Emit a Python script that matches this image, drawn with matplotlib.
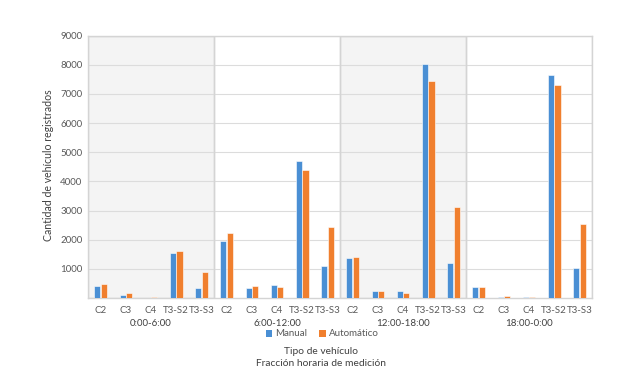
import matplotlib
matplotlib.use("Agg")
import matplotlib.pyplot as plt
import matplotlib.transforms as mtransforms
import numpy as np
from matplotlib.patches import Patch

categories = ["C2", "C3", "C4", "T3-S2", "T3-S3"]
groups = ["0:00-6:00", "6:00-12:00", "12:00-18:00", "18:00-0:00"]
manual = [420, 115, 0, 1555, 355,
          1950, 340, 445, 4690, 1095,
          1380, 230, 250, 8040, 1200,
          375, 45, 20, 7640, 1040]
automatico = [490, 160, 35, 1620, 890,
              2215, 420, 375, 4385, 2445,
              1405, 230, 170, 7455, 3130,
              375, 70, 45, 7295, 2525]
yticks = [1000, 2000, 3000, 4000, 5000, 6000, 7000, 8000, 9000]

plt.rcParams['font.family'] = ['Lato', 'DejaVu Sans']
blue = "#4a8fd4"
orange = "#f07f2e"
txt = "#595959"

fig = plt.figure(figsize=(6.33, 3.76), dpi=100)
ax = fig.add_axes([88/633, 1-298/376, (592-88)/633, (298-35.7)/376])

n = len(manual)
x = np.arange(n)
w = 0.24
ax.bar(x - w/2 - 0.01, manual, w, color=blue, edgecolor="white", linewidth=0.4, zorder=3)
ax.bar(x + w/2 + 0.01, automatico, w, color=orange, edgecolor="white", linewidth=0.4, zorder=3)

ng = len(categories)
for gi in range(len(groups)):
    lo, hi = gi*ng - 0.5, (gi+1)*ng - 0.5
    if gi % 2 == 0:
        ax.axvspan(lo, hi, facecolor="#f4f4f4", edgecolor="#d4d4d4", linewidth=1.0, zorder=0)
    ax.axvline(hi, color="#d4d4d4", linewidth=1.0, zorder=1)

ax.set_xlim(-0.5, n - 0.5)
ax.set_ylim(0, 9000)
ax.set_yticks(yticks)
ax.set_yticklabels([str(v) for v in yticks], fontsize=7, color=txt)
ax.yaxis.grid(True, color="#dcdcdc", linewidth=0.8, zorder=1)
ax.set_axisbelow(True)
ax.set_xticks(x)
ax.set_xticklabels(categories * len(groups), fontsize=7, color=txt)
ax.tick_params(axis="both", length=0, pad=4)
ax.tick_params(axis="x", pad=6)
for s in ax.spines.values():
    s.set_color("#d4d4d4")
    s.set_linewidth(1.0)

gtrans = mtransforms.blended_transform_factory(ax.transData, fig.transFigure)
for gi, g in enumerate(groups):
    ax.text(gi*ng + (ng-1)/2, 1 - 323/376, g, transform=gtrans,
            ha="center", va="center", fontsize=7, color="#404040")

fig.text(48/633, 1 - 165/376, "Cantidad de vehículo registrados", rotation=90,
         ha="center", va="center", fontsize=7.6, color="#404040")

handles = [Patch(facecolor=blue, label="Manual"), Patch(facecolor=orange, label="Automático")]
fig.legend(handles=handles, loc="center", bbox_to_anchor=(322/633, 1-334/376), ncol=2,
           frameon=False, fontsize=7, handlelength=0.7, handleheight=0.7,
           handletextpad=0.3, columnspacing=1.2, labelcolor=txt)

fig.text(321/633, 1-351/376, "Tipo de vehículo", ha="center", va="center", fontsize=7.4, color="#404040")
fig.text(321/633, 1-364/376, "Fracción horaria de medición", ha="center", va="center", fontsize=7.4, color="#404040")

fig.savefig("out.png", dpi=100)
